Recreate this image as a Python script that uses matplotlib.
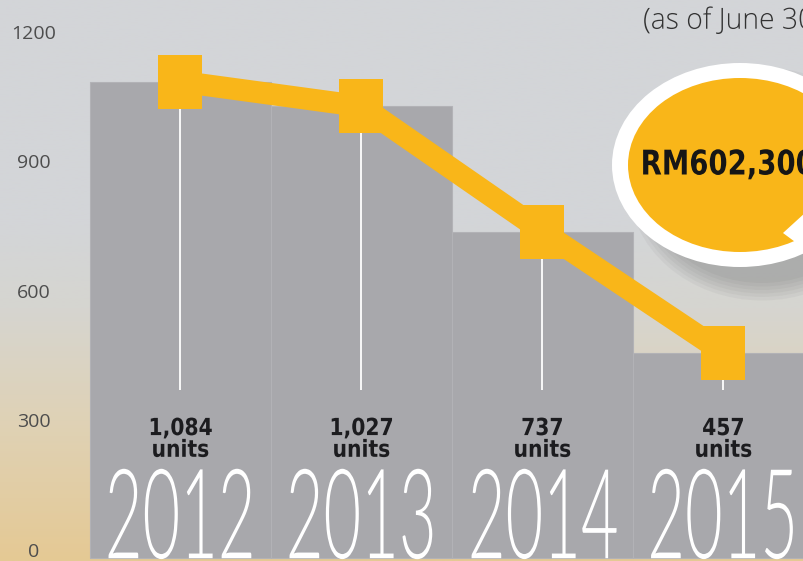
#!/usr/bin/env python3
"""
Units sold per year: grey step bars with a yellow trend line on top.
"""

import numpy as np
import matplotlib

matplotlib.use("Agg")
import matplotlib.pyplot as plt
from matplotlib.colors import LinearSegmentedColormap
from matplotlib.patches import Ellipse, Polygon
from matplotlib.path import Path
from matplotlib.patheffects import AbstractPathEffect
from matplotlib.transforms import Affine2D, Bbox

# data
years = ["2012", "2013", "2014", "2015"]
units = [1084, 1027, 737, 457]
unit_labels = ["1,084\nunits", "1,027\nunits", "737\nunits", "457\nunits"]
y_ticks = [0, 300, 600, 900, 1200]
callout = "RM602,300"
note = "(as of June 30)"

BAR_GREY = "#a8a8ac"
YELLOW = "#f9b619"


class Squeeze(AbstractPathEffect):
    """Narrow the glyphs horizontally (the source uses a condensed face)."""

    def __init__(self, sx, anchor="center"):
        super().__init__()
        self.sx = sx
        self.anchor = anchor

    def draw_path(self, renderer, gc, tpath, affine, rgbFace=None):
        ext = tpath.get_extents(affine)
        cx = ext.x0 if self.anchor == "left" else 0.5 * (ext.x0 + ext.x1)
        squeeze = Affine2D().translate(-cx, 0).scale(self.sx, 1).translate(cx, 0)
        renderer.draw_path(gc, tpath, affine + squeeze, rgbFace)


def squeezed(text, sx, anchor="center"):
    """Apply Squeeze and make the reported extent match what is drawn."""
    text.set_path_effects([Squeeze(sx, anchor)])
    orig = text.get_window_extent

    def extent(renderer=None, dpi=None):
        bb = orig(renderer, dpi)
        x0 = bb.x0 if anchor == "left" else 0.5 * (bb.x0 + bb.x1) - 0.5 * bb.width * sx
        return Bbox.from_extents(x0, bb.y0, x0 + bb.width * sx, bb.y1)

    text.get_window_extent = extent
    return text


fig = plt.figure(figsize=(8.04, 5.61), dpi=100)
ax = fig.add_axes([0, 0, 1, 1])
x = np.arange(len(years))

ax.set_xlim(-0.997, 3.445)
ax.set_ylim(-25.5, 1273)

# background: light grey fading to sand at the bottom
bg = LinearSegmentedColormap.from_list(
    "bg", [(0.0, "#e5c994"), (0.25, "#dfd2b6"), (0.45, "#d6d5d0"), (0.6, "#d3d5d8"), (1.0, "#d3d5d8")]
)
ax.imshow(
    np.linspace(0, 1, 256).reshape(-1, 1),
    cmap=bg,
    extent=(-0.997, 3.445, -25.5, 1273),
    origin="lower",
    aspect="auto",
    zorder=0,
)

base = -18.5
ax.bar(x, np.array(units) - base, bottom=base, width=1.0,
       color=BAR_GREY, edgecolor="#b2b2b6", linewidth=0.8, zorder=1)

# thin white drop lines under each point
ax.vlines(x, 370, units, color="white", linewidth=1.3, zorder=2)

rect = Path([(-0.407, -0.5), (0.407, -0.5), (0.407, 0.5), (-0.407, 0.5), (-0.407, -0.5)])
ax.plot(x, units, color=YELLOW, linewidth=15.8, marker=rect, markersize=38.9,
        markeredgewidth=0, zorder=4)

for xi, lbl in zip(x, unit_labels):
    t = ax.text(xi, 257, lbl, ha="center", va="center", fontsize=17, fontweight="bold",
                family="DejaVu Sans", color="#1c1c1f", linespacing=0.88, zorder=5)
    squeezed(t, 0.86)

for xi, yr in zip(x, years):
    t = ax.text(xi, -19, yr, ha="center", va="baseline", fontsize=90, fontweight=300,
                family=["Lato", "Open Sans", "DejaVu Sans"], color="white", zorder=5)
    squeezed(t, 0.52)

ax.set_xticks([])
ax.set_yticks(y_ticks, [str(t) for t in y_ticks])
ax.tick_params(axis="y", direction="in", length=0, pad=-24.5, labelsize=14,
               labelcolor="#4d4d4d", labelfontfamily="Open Sans")
for lbl in ax.get_yticklabels():
    lbl.set_horizontalalignment("center")
for spine in ax.spines.values():
    spine.set_visible(False)

# overlay in pixel units for the callout bubble and the note
deco = fig.add_axes([0, 0, 1, 1], zorder=5)
deco.set_xlim(0, 804)
deco.set_ylim(561, 0)
deco.axis("off")
deco.patch.set_visible(False)

# soft shadow falling to the lower right
for k in range(6):
    deco.add_patch(Ellipse((762, 184), 232 + k * 7, 198 + k * 7,
                           facecolor="#4a4a4a", edgecolor="none", alpha=0.05))
deco.add_patch(Ellipse((740, 165), 256, 204, facecolor="white", edgecolor="none"))
deco.add_patch(Ellipse((740, 165), 224, 174, facecolor=YELLOW, edgecolor="none"))
deco.add_patch(Polygon([(783, 233), (806, 212), (806, 250)], closed=True,
                       facecolor="white", edgecolor="none"))

t = deco.text(640, 165, callout, ha="left", va="center", fontsize=24.5, fontweight="bold",
              family="DejaVu Sans", color="#161616")
squeezed(t, 0.81, "left")
t = deco.text(643, 21, note, ha="left", va="center", fontsize=21, fontweight="light",
              family=["Open Sans", "DejaVu Sans"], color="#333333")
squeezed(t, 0.97, "left")

fig.savefig("out.png", dpi=100)
